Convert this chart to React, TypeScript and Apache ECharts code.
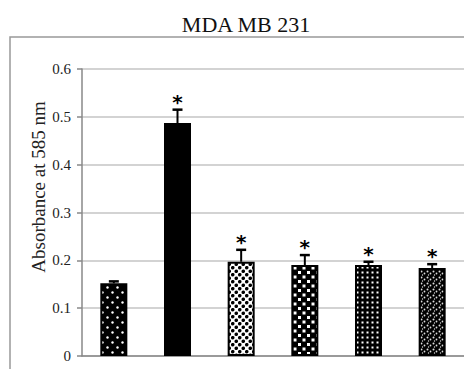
import React, { useEffect, useRef } from "react";
import * as echarts from "echarts";

const categories = ["C1", "C2", "C3", "C4", "C5", "C6"];
const values = [0.152, 0.487, 0.197, 0.19, 0.19, 0.184];
const errors = [0.004, 0.028, 0.025, 0.021, 0.007, 0.008];
const significant = [false, true, true, true, true, true];
const yTicks = [0, 0.1, 0.2, 0.3, 0.4, 0.5, 0.6];
const titleText = "MDA MB 231";
const yAxisTitle = "Absorbance at 585 nm";

const SERIF = "Liberation Serif";

type Tile = { w: number; h: number; bg: string; fg: string; draw: (c: CanvasRenderingContext2D) => void };

function makePattern(t: Tile) {
  const cv = document.createElement("canvas");
  cv.width = t.w;
  cv.height = t.h;
  const c = cv.getContext("2d")!;
  c.fillStyle = t.bg;
  c.fillRect(0, 0, t.w, t.h);
  c.fillStyle = t.fg;
  t.draw(c);
  return { image: cv.toDataURL(), repeat: "repeat", imageWidth: t.w, imageHeight: t.h };
}

const dot = (c: CanvasRenderingContext2D, x: number, y: number, r: number) => {
  c.beginPath();
  c.arc(x, y, r, 0, Math.PI * 2);
  c.fill();
};

export default function App() {
  const ref = useRef<HTMLDivElement>(null);
  useEffect(() => {
    document.body.style.margin = "0";
    const chart = echarts.init(ref.current!, null, { renderer: "svg" });
    const patterns = [
      makePattern({ w: 10, h: 10, bg: "#000", fg: "#fff", draw: (c) => { dot(c, 2.5, 2.5, 1.2); dot(c, 7.5, 7.5, 1.2); } }),
      "#000",
      makePattern({ w: 7, h: 7, bg: "#fff", fg: "#000", draw: (c) => { dot(c, 1.75, 1.75, 1.8); dot(c, 5.25, 5.25, 1.8); } }),
      makePattern({ w: 9, h: 9, bg: "#000", fg: "#fff", draw: (c) => { c.fillRect(1, 1, 3, 3); c.fillRect(5.5, 5.5, 3, 3); } }),
      makePattern({ w: 5, h: 5, bg: "#000", fg: "#fff", draw: (c) => { c.fillRect(1.5, 1.5, 2, 2); } }),
      makePattern({ w: 6, h: 6, bg: "#000", fg: "#ddd", draw: (c) => { dot(c, 1.5, 1.5, 1); dot(c, 4.5, 3.5, 0.9); dot(c, 2.5, 5, 0.7); } }),
    ];
    chart.setOption({
      animation: false,
      graphic: [
        { type: "rect", z: -10, shape: { x: 10, y: 37, width: 470, height: 350 }, style: { fill: "none", stroke: "#999", lineWidth: 1.5 } },
        { type: "text", x: 246, y: 24, style: { text: titleText, fontFamily: SERIF, fontSize: 22, fill: "#111", align: "center", verticalAlign: "middle" } },
        { type: "text", x: 38, y: 187, rotation: Math.PI / 2, style: { text: yAxisTitle, fontFamily: SERIF, fontSize: 19, fill: "#222", align: "center", verticalAlign: "middle" } },
      ],
      grid: { left: 82, top: 69, width: 384, height: 287 },
      xAxis: {
        type: "category",
        data: categories,
        axisLine: { lineStyle: { color: "#888", width: 1.5 } },
        axisTick: { show: false },
        axisLabel: { show: false },
      },
      yAxis: {
        type: "value",
        min: yTicks[0],
        max: yTicks[yTicks.length - 1],
        interval: 0.1,
        axisLine: { show: true, lineStyle: { color: "#888", width: 1.5 } },
        axisTick: { show: true, length: 5, lineStyle: { color: "#888", width: 1.5 } },
        splitLine: { lineStyle: { color: "#c4c4c4", width: 1.5 } },
        axisLabel: { margin: 11, fontFamily: SERIF, fontSize: 15, color: "#222", formatter: (v: number) => (v === 0 ? "0" : v.toFixed(1)) },
      },
      series: [
        {
          type: "bar",
          barWidth: 27,
          data: values.map((v, i) => ({ value: v, itemStyle: { color: patterns[i], borderColor: "#000", borderWidth: 2 } })),
        },
        {
          type: "custom",
          z: 5,
          data: values.map((v, i) => [i, v, errors[i], significant[i] ? 1 : 0]),
          renderItem: (params: any, api: any) => {
            const i = api.value(0);
            const v = api.value(1);
            const e = api.value(2);
            const s = api.value(3);
            const top = api.coord([i, v]);
            const cap = api.coord([i, v + e]);
            const children: any[] = [
              { type: "line", shape: { x1: top[0], y1: top[1], x2: cap[0], y2: cap[1] }, style: { stroke: "#000", lineWidth: 2 } },
              { type: "line", shape: { x1: cap[0] - 5, y1: cap[1], x2: cap[0] + 5, y2: cap[1] }, style: { stroke: "#000", lineWidth: 2.5 } },
            ];
            if (s) {
              children.push({
                type: "text",
                style: { text: "*", x: cap[0], y: cap[1] - 8, fontFamily: "DejaVu Sans", fontWeight: "bold", fontSize: 20, fill: "#000", align: "center", verticalAlign: "middle" },
              });
            }
            return { type: "group", children };
          },
        },
      ],
    });
    return () => chart.dispose();
  }, []);
  return <div ref={ref} style={{ width: 464, height: 369 }} />;
}
